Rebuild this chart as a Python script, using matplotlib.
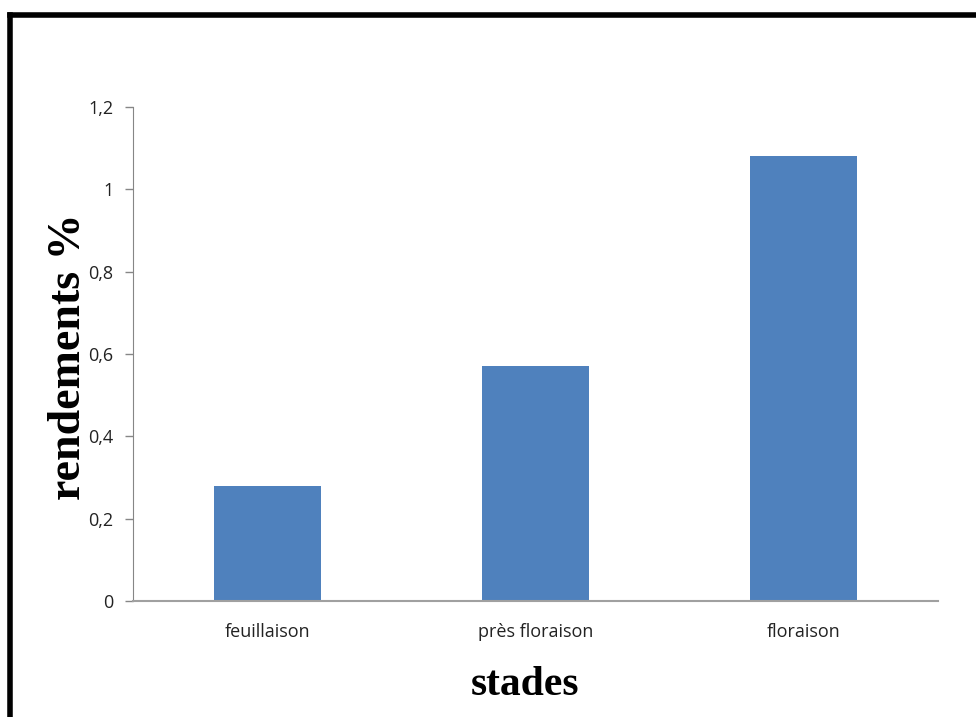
import matplotlib
matplotlib.use('Agg')
import matplotlib.pyplot as plt
from matplotlib.lines import Line2D

# yields by growth stage
stades = ['feuillaison', 'près floraison', 'floraison']
rendements = [0.28, 0.57, 1.08]
yticks = [0, 0.2, 0.4, 0.6, 0.8, 1.0, 1.2]
ytick_labels = ['0', '0,2', '0,4', '0,6', '0,8', '1', '1,2']

fig = plt.figure(figsize=(9.76, 7.17), dpi=100)
ax = fig.add_axes([0.1363, 0.1618, 0.8245, 0.689])

x = range(len(stades))
ax.bar(x, rendements, width=0.4, color='#4f81bd')

ax.set_xlim(-0.5, 2.5)
ax.set_ylim(0, 1.2)
ax.set_yticks(yticks)
ax.set_yticklabels(ytick_labels, fontfamily='Open Sans', fontsize=13, color='#222222')
ax.set_xticks(list(x))
ax.set_xticklabels(stades, fontfamily='Open Sans', fontsize=13, color='#222222')
ax.tick_params(axis='y', length=6, width=1, color='#868686', pad=8)
ax.tick_params(axis='x', length=0, pad=16)

for side in ['top', 'right']:
    ax.spines[side].set_visible(False)
ax.spines['left'].set_color('#868686')
ax.spines['bottom'].set_color('#a0a0a0')
ax.spines['bottom'].set_linewidth(1.5)

fig.text(0.071, 0.503, 'rendements %', rotation=90, ha='center', va='center',
         fontfamily='Liberation Serif', fontweight='bold', fontsize=33)
fig.text(0.538, 0.044, 'stades', ha='center', va='center',
         fontfamily='Liberation Serif', fontweight='bold', fontsize=30)

# thick frame on the left and top edges
fig.add_artist(Line2D([0.0107, 0.0107], [0, 0.979], transform=fig.transFigure,
                      color='black', linewidth=4, solid_capstyle='projecting'))
fig.add_artist(Line2D([0.0107, 1.0], [0.979, 0.979], transform=fig.transFigure,
                      color='black', linewidth=4, solid_capstyle='projecting'))

fig.savefig('out.png', dpi=100)
